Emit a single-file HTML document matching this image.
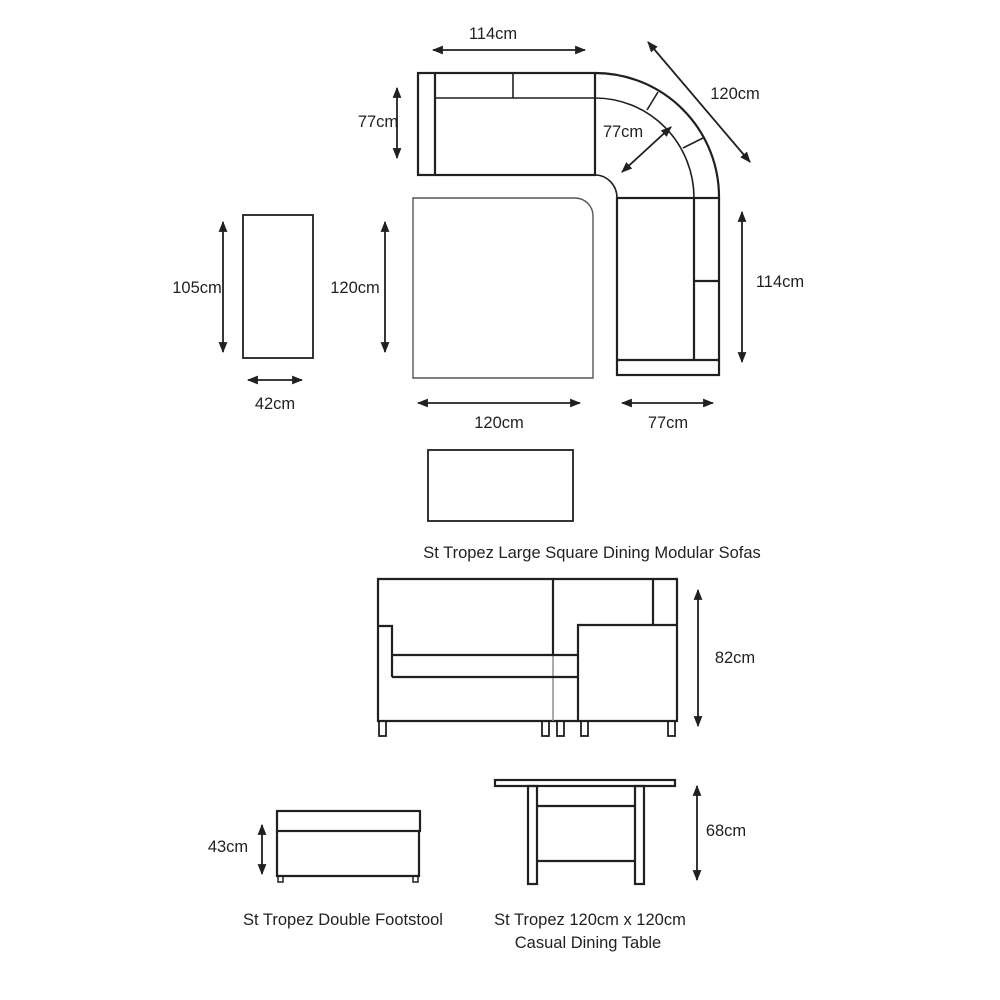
<!DOCTYPE html>
<html><head><meta charset="utf-8"><style>
html,body{margin:0;padding:0;background:#fff;width:1000px;height:1000px;overflow:hidden}
svg text{font-family:"Liberation Sans",sans-serif;font-size:16.5px;fill:#231f20}
</style></head><body>
<svg width="1000" height="1000" viewBox="0 0 1000 1000" xmlns="http://www.w3.org/2000/svg">
<defs>
<marker id="a" viewBox="0 0 10 10" refX="9" refY="5" markerWidth="11" markerHeight="11" markerUnits="userSpaceOnUse" orient="auto-start-reverse"><path d="M0,1 L10,5 L0,9 Z" fill="#231f20"/></marker>
</defs>
<g fill="none" stroke="#231f20" stroke-width="2.2">
<rect x="418" y="73" width="177" height="102"/>
<line x1="435" y1="73" x2="435" y2="175"/>
<line x1="435" y1="98" x2="595" y2="98" stroke-width="1.6"/>
<line x1="513" y1="73" x2="513" y2="98" stroke-width="1.6"/>
<path d="M595,73 A124,124 0 0 1 719,198"/>
<path d="M595,98 A99,100 0 0 1 694,198" stroke-width="1.6"/>
<path d="M595,175 A22,23 0 0 1 617,198" stroke-width="1.6"/>
<line x1="647" y1="110" x2="658" y2="92" stroke-width="1.6"/>
<line x1="683" y1="148" x2="703" y2="138" stroke-width="1.6"/>
<rect x="617" y="198" width="102" height="177"/>
<line x1="694" y1="198" x2="694" y2="360"/>
<line x1="617" y1="360" x2="719" y2="360"/>
<line x1="694" y1="281" x2="719" y2="281"/>
<path d="M413,198 H575 A18,18 0 0 1 593,216 V378 H413 Z" stroke="#555" stroke-width="1.4"/>
<rect x="243" y="215" width="70" height="143" stroke-width="1.8"/>
<rect x="428" y="450" width="145" height="71" stroke-width="1.8"/>
<path d="M378,579 H677 V721 H378 Z"/>
<line x1="553" y1="579" x2="553" y2="655"/>
<line x1="553" y1="655" x2="553" y2="721" stroke="#888" stroke-width="1.4"/>
<line x1="653" y1="579" x2="653" y2="625"/>
<path d="M677,625 H578 V721"/>
<path d="M378,626 H392 V677"/>
<line x1="392" y1="655" x2="578" y2="655"/>
<line x1="392" y1="677" x2="578" y2="677"/>
<g stroke-width="1.8">
<rect x="379" y="721" width="7" height="15"/><rect x="542" y="721" width="7" height="15"/><rect x="557" y="721" width="7" height="15"/><rect x="581" y="721" width="7" height="15"/><rect x="668" y="721" width="7" height="15"/>
</g>
<rect x="277" y="811" width="143" height="20"/>
<path d="M277,831 V876 H419 V831"/>
<rect x="278" y="876" width="5" height="6" stroke-width="1.5"/><rect x="413" y="876" width="5" height="6" stroke-width="1.5"/>
<rect x="495" y="780" width="180" height="6"/>
<rect x="528" y="786" width="9" height="98"/>
<rect x="635" y="786" width="9" height="98"/>
<line x1="537" y1="806" x2="635" y2="806"/>
<line x1="537" y1="861" x2="635" y2="861"/>
</g>
<g stroke="#231f20" stroke-width="1.8" marker-start="url(#a)" marker-end="url(#a)">
<line x1="433" y1="50" x2="585" y2="50"/>
<line x1="397" y1="88" x2="397" y2="158"/>
<line x1="648" y1="42" x2="750" y2="162"/>
<line x1="622" y1="172" x2="671" y2="127"/>
<line x1="742" y1="212" x2="742" y2="362"/>
<line x1="385" y1="222" x2="385" y2="352"/>
<line x1="223" y1="222" x2="223" y2="352"/>
<line x1="248" y1="380" x2="302" y2="380"/>
<line x1="418" y1="403" x2="580" y2="403"/>
<line x1="622" y1="403" x2="713" y2="403"/>
<line x1="698" y1="590" x2="698" y2="726"/>
<line x1="262" y1="825" x2="262" y2="874"/>
<line x1="697" y1="786" x2="697" y2="880"/>
</g>
<g text-anchor="middle">
<text x="493" y="39">114cm</text>
<text x="378" y="127">77cm</text>
<text x="735" y="99">120cm</text>
<text x="623" y="137">77cm</text>
<text x="780" y="287">114cm</text>
<text x="355" y="293">120cm</text>
<text x="197" y="293">105cm</text>
<text x="275" y="409">42cm</text>
<text x="499" y="428">120cm</text>
<text x="668" y="428">77cm</text>
<text x="592" y="558">St Tropez Large Square Dining Modular Sofas</text>
<text x="735" y="663">82cm</text>
<text x="228" y="852">43cm</text>
<text x="726" y="836">68cm</text>
<text x="343" y="925">St Tropez Double Footstool</text>
<text x="590" y="925">St Tropez 120cm x 120cm</text>
<text x="588" y="948">Casual Dining Table</text>
</g>
</svg>
</body></html>
